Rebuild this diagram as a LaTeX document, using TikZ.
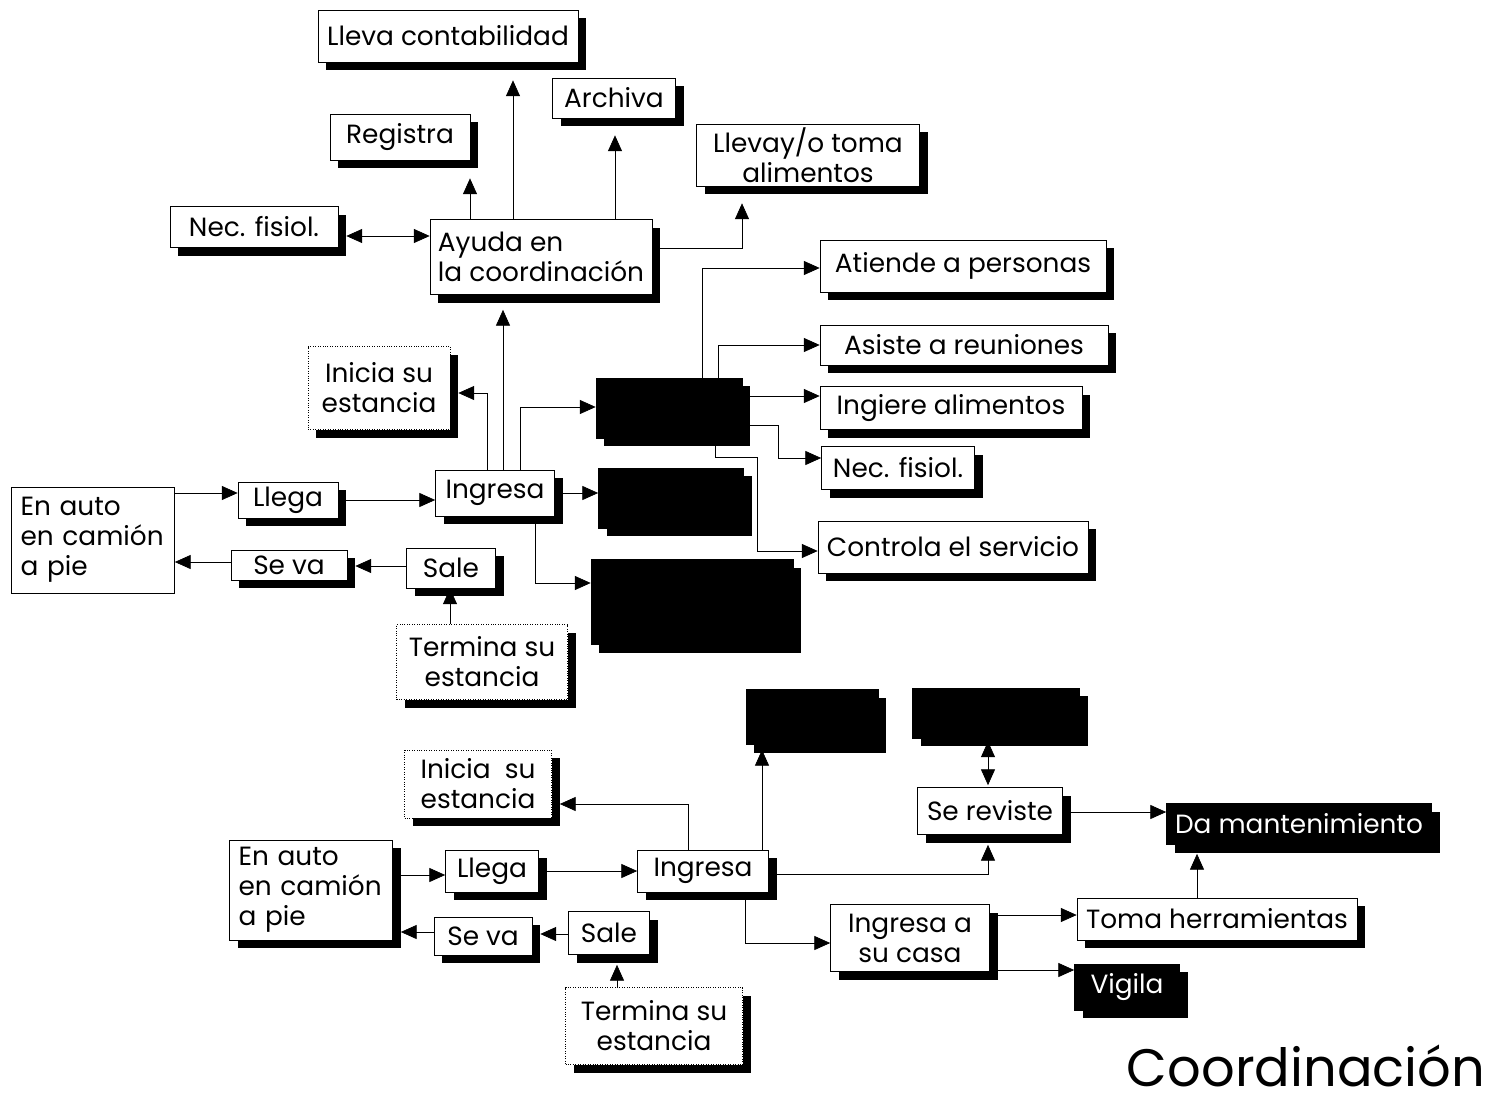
\documentclass[tikz,border=0pt]{standalone}
\usepackage{fontspec}
\setmainfont{Poppins}
\usetikzlibrary{arrows.meta,shadows}

\begin{document}
\begin{tikzpicture}[x=0.02cm, y=-0.02cm,
    box/.style={draw, thin, fill=white, inner sep=2pt, font=\fontsize{15}{17}\selectfont,
      drop shadow={shadow xshift=0.16cm, shadow yshift=-0.16cm, fill=black, opacity=1}},
    dotbox/.style={box, densely dotted},
    negbox/.style={box, fill=black, text=white},
    flatbox/.style={draw, thin, fill=white, inner sep=2pt, font=\fontsize{15}{17}\selectfont},
    sz/.style 2 args={minimum width=#1*0.02cm, minimum height=#2*0.02cm},
    arr/.style={thin, -{Triangle[length=9pt,width=8pt]}},
    biarr/.style={thin, {Triangle[length=9pt,width=8pt]}-{Triangle[length=9pt,width=8pt]}}]
    \useasboundingbox (0,0) rectangle (1502,1109);

    % upper part
    \node[box, sz={260}{52}] (lleva) at (448,36) {Lleva contabilidad};
    \node[box, sz={123}{40}] (archiva) at (614,98) {Archiva};
    \node[box, sz={140}{46}] (registra) at (400,137) {Registra};
    \node[box, sz={223}{60}, align=center] (llevaali) at (808,155) {Llevay/o toma\\alimentos};
    \node[box, sz={168}{41}] (necA) at (254,227) {Nec. fisiol.};
    \node[box, sz={222}{75}, align=left] (ayuda) at (541,257) {Ayuda en\\la coordinación};
    \node[box, sz={286}{52}] (atiende) at (963,266) {Atiende a personas};
    \node[box, sz={288}{40}] (asiste) at (964,345) {Asiste a reuniones};
    \node[dotbox, sz={142}{83}, align=center] (iniciaA) at (379,388) {Inicia su\\estancia};
    \node[negbox, sz={146}{60}] (negA) at (669,408) {};
    \node[box, sz={262}{43}] (ingiere) at (951,408) {Ingiere alimentos};
    \node[box, sz={153}{43}] (necB) at (898,468) {Nec. fisiol.};
    \node[negbox, sz={145}{60}] (negB) at (671,498) {};
    \node[box, sz={119}{46}] (ingresaA) at (495,493) {Ingresa};
    \node[flatbox, sz={163}{106}, align=left, text width=2.9cm] (autoA) at (93,540) {En auto\\en camión\\a pie};
    \node[box, sz={100}{36}] (llegaA) at (288,500) {Llega};
    \node[box, sz={116}{30}] (sevaA) at (289,565) {Se va};
    \node[box, sz={89}{40}] (saleA) at (451,568) {Sale};
    \node[box, sz={270}{52}] (controla) at (953,547) {Controla el servicio};
    \node[negbox, sz={202}{85}] (negC) at (692,602) {};
    \node[dotbox, sz={171}{75}, align=center] (terminaA) at (482,662) {Termina su\\estancia};

    \draw[biarr, shorten <=0.16cm] (necA.east |- 0,236) -- (ayuda.west |- 0,236);
    \draw[arr, shorten >=0.36cm] (ayuda.north -| 470,0) -- (registra.south -| 470,0);
    \draw[arr, shorten >=0.36cm] (ayuda.north -| 513,0) -- (lleva.south -| 513,0);
    \draw[arr, shorten >=0.34cm] (ayuda.north -| 615,0) -- (archiva.south -| 615,0);
    \draw[arr, shorten >=0.34cm] (ayuda.east |- 0,248) -| (llevaali.south -| 742,0);
    \draw[arr, shorten >=0.3cm] (ingresaA.north -| 503,0) -- (ayuda.south -| 503,0);
    \draw[arr, shorten >=0.16cm] (ingresaA.north -| 487,0) |- (iniciaA.east |- 0,393);
    \draw[arr] (ingresaA.north -| 520,0) |- (negA.west |- 0,407);
    \draw[arr] (ingresaA.east) -- (negB.west |- ingresaA.east);
    \draw[arr] (ingresaA.south -| 535,0) |- (negC.west |- 0,583);
    \draw[arr] (llegaA.east |- 0,500) -- (ingresaA.west |- 0,500);
    \draw[arr] (autoA.east |- 0,493) -- (llegaA.west |- 0,493);
    \draw[arr] (sevaA.west |- 0,562) -- (autoA.east |- 0,562);
    \draw[arr, shorten >=0.16cm] (saleA.west |- 0,566) -- (sevaA.east |- 0,566);
    \draw[arr] (terminaA.north -| 450,0) -- (saleA.south -| 450,0);
    \draw[arr] (negA.north -| 702,0) |- (atiende.west |- 0,268);
    \draw[arr] (negA.north -| 718,0) |- (asiste.west);
    \draw[arr] (negA.east |- 0,396) -- (ingiere.west |- 0,396);
    \draw[arr] (negA.east |- 0,425) -- (778,425) |- (necB.west |- 0,458);
    \draw[arr] (negA.south -| 715,0) |- (757,457) |- (controla.west |- 0,551);

    % lower part
    \node[negbox, sz={132}{55}] (negD) at (812,717) {};
    \node[negbox, sz={167}{50}] (negE) at (996,713) {};
    \node[dotbox, sz={147}{68}, align=center] (iniciaB) at (478,784) {Inicia\ \ su\\estancia};
    \node[box, sz={145}{47}] (reviste) at (990,811) {Se reviste};
    \node[negbox, sz={265}{41}] (mant) at (1299,824) {Da mantenimiento};
    \node[box, sz={163}{100}, align=left, text width=2.9cm] (autoB) at (311,890) {En auto\\en camión\\a pie};
    \node[box, sz={93}{42}] (llegaB) at (492,871) {Llega};
    \node[box, sz={131}{42}] (ingresaB) at (703,871) {Ingresa};
    \node[box, sz={98}{38}] (sevaB) at (483,936) {Se va};
    \node[box, sz={81}{43}] (saleB) at (609,933) {Sale};
    \node[box, sz={280}{42}] (toma) at (1217,919) {Toma herramientas};
    \node[box, sz={159}{67}, align=center] (casa) at (910,938) {Ingresa a\\su casa};
    \node[negbox, sz={105}{46}] (vigila) at (1127,987) {Vigila};
    \node[dotbox, sz={177}{77}, align=center] (terminaB) at (654,1026) {Termina su\\estancia};

    \draw[arr, shorten >=0.1cm] (ingresaB.north -| 762,0) -- (negD.south -| 762,0);
    \draw[arr, shorten >=0.16cm] (ingresaB.north -| 688,0) |- (iniciaB.east |- 0,804);
    \draw[arr] (llegaB.east |- 0,871) -- (ingresaB.west |- 0,871);
    \draw[arr] (autoB.east |- 0,875) -- (llegaB.west |- 0,875);
    \draw[arr, shorten >=0.16cm] (sevaB.west |- 0,932) -- (autoB.east |- 0,932);
    \draw[arr, shorten >=0.16cm] (saleB.west |- 0,934) -- (sevaB.east |- 0,934);
    \draw[arr, shorten >=0.2cm] (terminaB.north -| 617,0) -- (saleB.south -| 617,0);
    \draw[arr, shorten >=0.2cm] (ingresaB.east |- 0,874) -| (reviste.south -| 988,0);
    \draw[biarr, shorten >=0.06cm, shorten <=0.04cm] (reviste.north -| 988,0) -- (negE.south -| 988,0);
    \draw[arr] (reviste.east |- 0,812) -- (mant.west |- 0,812);
    \draw[arr] (ingresaB.south -| 745,0) |- (casa.west |- 0,943);
    \draw[arr] (casa.east |- 0,915) -- (toma.west |- 0,915);
    \draw[arr] (casa.east |- 0,970) -- (vigila.west |- 0,970);
    \draw[arr, shorten >=0.18cm] (toma.north -| 1197,0) -- (mant.south -| 1197,0);

    \node[font=\fontsize{30}{36}\selectfont] (titulo) at (1306,1066) {Coordinación};
\end{tikzpicture}
\end{document}
